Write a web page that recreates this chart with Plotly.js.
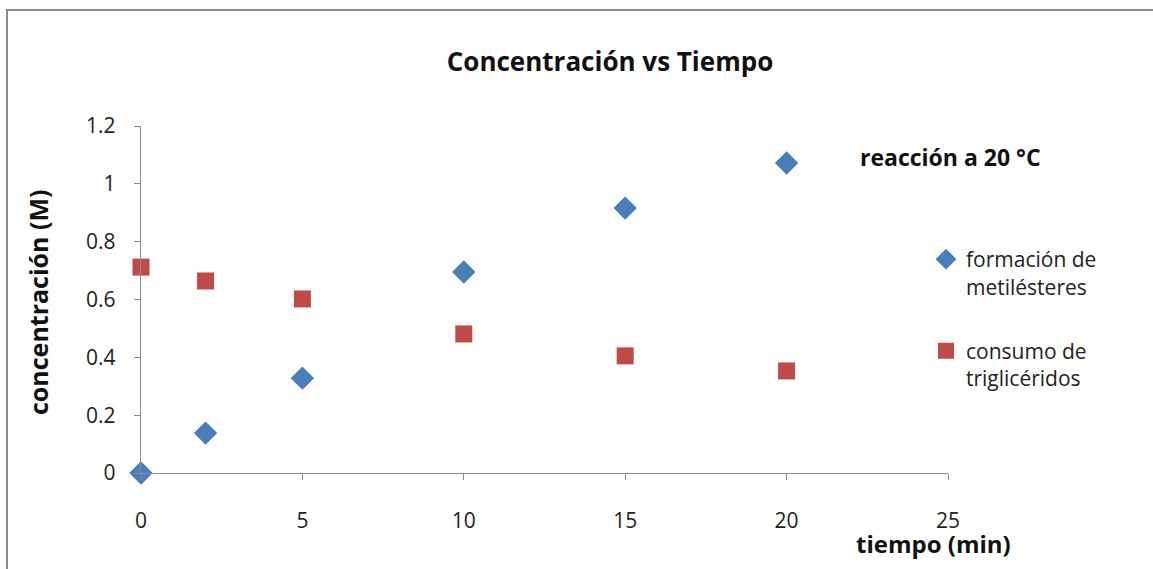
<!DOCTYPE html>
<html><head><meta charset="utf-8">
<script src="https://cdn.plot.ly/plotly-3.0.1.min.js"></script>
<style>
html,body{margin:0;padding:0;background:#fff;}
#frame{position:absolute;left:6px;top:9px;width:1160px;height:580px;border:2px solid #8a8a8a;box-sizing:border-box;}
#chart{position:absolute;left:0;top:0;width:1153px;height:569px;}
</style></head>
<body>
<div id="frame"></div>
<div id="chart"></div>
<script>
const tiempo = [0, 2, 5, 10, 15, 20];
const metilesteres = [0, 0.138, 0.328, 0.695, 0.916, 1.072];
const trigliceridos = [0.712, 0.664, 0.602, 0.481, 0.405, 0.353];
const xTicks = [0, 5, 10, 15, 20, 25];
const yTicks = [0, 0.2, 0.4, 0.6, 0.8, 1, 1.2];
const yTickText = ['0', '0.2', '0.4', '0.6', '0.8', '1', '1.2'];

const font = '"Open Sans", Lato, sans-serif';
const PW = 807, PH = 347, L = 141, T = 126;
const px = v => (v - L) / PW;
const py = v => (T + PH - v) / PH;

const traces = [
  {x: tiempo, y: metilesteres, mode: 'markers', type: 'scatter', name: 'formación de<br>metilésteres',
   legendgroup: 'a', cliponaxis: false,
   marker: {symbol: 'diamond', size: 18, color: '#4a7ebb', line: {width: 0}}},
  {x: tiempo, y: trigliceridos, mode: 'markers', type: 'scatter', name: 'consumo de<br>triglicéridos',
   legendgroup: 'b', cliponaxis: false,
   marker: {symbol: 'square', size: 17, color: '#be4b48', line: {width: 0}}}
];

const layout = {
  width: 1153, height: 569,
  paper_bgcolor: 'rgba(0,0,0,0)', plot_bgcolor: 'rgba(0,0,0,0)',
  margin: {l: 141, r: 205, t: 126, b: 96, autoexpand: false},
  font: {family: font, color: '#222', size: 20},
  title: {text: '<b>Concentración vs Tiempo</b>', x: 610/1153, xref: 'container', xanchor: 'center',
          y: 1 - 62/569, yref: 'container', yanchor: 'middle', font: {size: 26, color: '#111'}, automargin: false},
  xaxis: {range: [0, 25], tickvals: xTicks, ticktext: xTicks.map(String), showgrid: false, zeroline: false,
          showline: true, linecolor: '#8c8c8c', linewidth: 1.3, ticks: 'outside', ticklen: 6, tickcolor: '#8c8c8c',
          ticklabelstandoff: 22, tickfont: {size: 21, color: '#222'}, fixedrange: true, automargin: false},
  yaxis: {range: [0, 1.2], tickvals: yTicks, ticktext: yTickText, showgrid: false, zeroline: false,
          showline: true, linecolor: '#8c8c8c', linewidth: 1.3, ticks: 'outside', ticklen: 6, tickcolor: '#8c8c8c',
          ticklabelstandoff: 14, tickfont: {size: 21, color: '#222'}, fixedrange: true, automargin: false},
  showlegend: true,
  legend: {x: px(926), xref: 'paper', y: py(239), yref: 'paper', yanchor: 'top', xanchor: 'left',
           traceorder: 'grouped', tracegroupgap: 34, valign: 'top', font: {size: 21, color: '#222'},
           itemwidth: 30, bgcolor: 'rgba(0,0,0,0)'},
  annotations: [
    {text: '<b>reacción a 20 °C</b>', xref: 'paper', yref: 'paper', x: px(858), y: py(157),
     xanchor: 'left', yanchor: 'middle', showarrow: false, font: {size: 23, color: '#111'}},
    {text: '<b>tiempo (min)</b>', xref: 'paper', yref: 'paper', x: px(933), y: py(543),
     xanchor: 'center', yanchor: 'middle', showarrow: false, font: {size: 24, color: '#111'}},
    {text: '<b>concentración (M)</b>', xref: 'paper', yref: 'paper', x: px(38), y: py(302),
     xanchor: 'center', yanchor: 'middle', textangle: -90, showarrow: false, font: {size: 25, color: '#111'}}
  ]
};

Plotly.newPlot('chart', traces, layout, {displayModeBar: false, staticPlot: true});
</script>
</body></html>
